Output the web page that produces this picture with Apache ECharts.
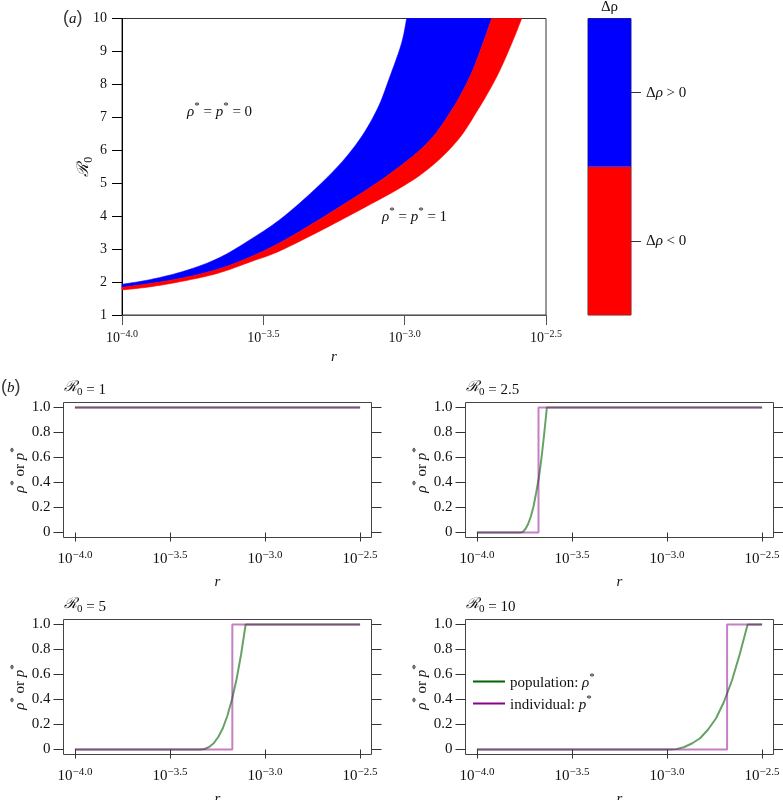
<!DOCTYPE html>
<html><head><meta charset="utf-8">
<script src="https://cdn.jsdelivr.net/npm/echarts@6/dist/echarts.min.js"></script>
<style>html,body{margin:0;padding:0;background:#fff}#c{width:783px;height:800px}</style>
</head><body><div id="c"></div>
<script>
// ================= DATA =================
// x axis: log10(r)
const xTickValues = [-4, -3.5, -3, -2.5];
const xTickLabels = ['\u22124.0', '\u22123.5', '\u22123.0', '\u22122.5'];
const yTickValuesB = [0, 0.2, 0.4, 0.6, 0.8, 1];
const yTickLabelsB = ['0', '0.2', '0.4', '0.6', '0.8', '1.0'];

// panel (a): region boundaries, [log10 r, R0]
const blueUpper = [[-4.000,1.93],[-3.897,2.08],[-3.777,2.34],[-3.660,2.72],[-3.544,3.30],[-3.423,4.02],[-3.271,5.20],[-3.169,6.21],[-3.098,7.23],[-3.052,8.24],[-3.011,9.25],[-2.993,10.0]];
const blueMid   = [[-4.000,1.84],[-3.897,1.96],[-3.777,2.14],[-3.660,2.39],[-3.544,2.77],[-3.423,3.28],[-3.247,4.19],[-3.066,5.20],[-2.921,6.21],[-2.833,7.23],[-2.769,8.24],[-2.723,9.25],[-2.692,10.0]];
const redLower  = [[-4.000,1.76],[-3.897,1.86],[-3.777,2.04],[-3.660,2.27],[-3.544,2.62],[-3.423,3.02],[-3.158,4.19],[-2.953,5.20],[-2.822,6.21],[-2.741,7.23],[-2.674,8.24],[-2.621,9.25],[-2.586,10.0]];

// colour key
const keyLevels = ['\u0394\u03c1 < 0', '\u0394\u03c1 > 0'];
const keyValues = [1, 1];
const keyColors = ['#ff0000', '#0000ff'];

// panel (b): R0 values and curves
const panelR0 = ['1', '2.5', '5', '10'];
const popR0_1   = [[-4,1],[-2.5,1]];
const indR0_1   = [[-4,1],[-2.5,1]];
const popR0_2_5 = [[-4,0],[-3.772,0],[-3.758,0.005],[-3.744,0.03],[-3.730,0.07],[-3.716,0.13],[-3.702,0.21],[-3.688,0.32],[-3.674,0.44],[-3.660,0.60],[-3.646,0.79],[-3.632,1],[-2.5,1]];
const indR0_2_5 = [[-4,0],[-3.676,0],[-3.676,1],[-2.5,1]];
const popR0_5   = [[-4,0],[-3.342,0],[-3.318,0.004],[-3.294,0.02],[-3.270,0.05],[-3.246,0.10],[-3.222,0.17],[-3.198,0.27],[-3.174,0.40],[-3.150,0.56],[-3.126,0.76],[-3.102,1],[-2.5,1]];
const indR0_5   = [[-4,0],[-3.172,0],[-3.172,1],[-2.5,1]];
const popR0_10  = [[-4,0],[-2.992,0],[-2.950,0.003],[-2.909,0.02],[-2.867,0.05],[-2.826,0.09],[-2.784,0.16],[-2.742,0.25],[-2.701,0.38],[-2.659,0.55],[-2.618,0.76],[-2.576,1],[-2.5,1]];
const indR0_10  = [[-4,0],[-2.684,0],[-2.684,1],[-2.5,1]];
const popSeries = [popR0_1, popR0_2_5, popR0_5, popR0_10];
const indSeries = [indR0_1, indR0_2_5, indR0_5, indR0_10];
const popName = 'population';
const indName = 'individual';

// ================= STYLE =================
const SERIF = "'Liberation Serif','DejaVu Serif','Times New Roman',serif";
const INK = '#111';
function rich(fs) {
  return {
    n:  {fontFamily: SERIF, fontSize: fs, color: INK, verticalAlign: 'bottom'},
    it: {fontFamily: SERIF, fontSize: fs, color: INK, fontStyle: 'italic', verticalAlign: 'bottom'},
    r:  {fontFamily: "'DejaVu Serif','Liberation Serif',serif", fontSize: fs, color: INK, fontStyle: 'italic', verticalAlign: 'top'},
    sub:{fontFamily: SERIF, fontSize: Math.round(fs*0.72), color: INK, verticalAlign: 'bottom', padding: [7,0,0,0]},
    sup:{fontFamily: SERIF, fontSize: Math.round(fs*0.72), color: INK, verticalAlign: 'top', padding: [0,0,8,0]},
    b:  {fontFamily: SERIF, fontSize: fs, color: INK, verticalAlign: 'bottom'},
    s:  {fontFamily: SERIF, fontSize: Math.round(fs*0.72), color: INK, verticalAlign: 'top', padding: [0,0,6,0]}
  };
}
function xTickFmt(v) {
  let i = xTickValues.findIndex(t => Math.abs(t - v) < 1e-6);
  if (i < 0) return '';
  return '{b|10}{s|' + xTickLabels[i] + '}';
}
function yTickFmtB(v) {
  let i = yTickValuesB.findIndex(t => Math.abs(t - v) < 1e-6);
  return i < 0 ? '' : yTickLabelsB[i];
}
// Catmull-Rom smoothing of a pixel polyline (for drawing only)
function smoothPx(pts, n) {
  const out = [];
  for (let i = 0; i < pts.length - 1; i++) {
    const p0 = pts[Math.max(i - 1, 0)], p1 = pts[i], p2 = pts[i + 1], p3 = pts[Math.min(i + 2, pts.length - 1)];
    for (let k = 0; k < n; k++) {
      const t = k / n, t2 = t * t, t3 = t2 * t;
      out.push([0, 1].map(d => 0.5 * ((2 * p1[d]) + (-p0[d] + p2[d]) * t + (2 * p0[d] - 5 * p1[d] + 4 * p2[d] - p3[d]) * t2 + (-p0[d] + 3 * p1[d] - 3 * p2[d] + p3[d]) * t3)));
    }
  }
  out.push(pts[pts.length - 1]);
  return out;
}
function band(upper, lower, color) {
  return {type: 'custom', xAxisIndex: 0, yAxisIndex: 0, silent: true, data: [[-3.5, 5]],
    renderItem: (p, api) => {
      const u = smoothPx(upper.map(q => api.coord(q)), 12);
      const l = smoothPx(lower.map(q => api.coord(q)), 12).reverse();
      return {type: 'polygon', shape: {points: u.concat(l)}, style: {fill: color, stroke: color, lineWidth: 0.6}};
    }};
}

const grids = [
  {left: 122, top: 18.5, width: 424, height: 296.5},
  {left: 588, top: 18.5, width: 43, height: 296.5},
  {left: 63.5, top: 402.5, width: 308, height: 135},
  {left: 465.5, top: 402.5, width: 308, height: 135},
  {left: 63.5, top: 619.5, width: 308, height: 135},
  {left: 465.5, top: 619.5, width: 308, height: 135}
].map((g, i) => Object.assign({show: true, borderColor: i < 2 ? '#333' : '#444', borderWidth: 1, backgroundColor: 'transparent', outerBoundsMode: 'none'}, g));

const xAxes = [
  {gridIndex: 0, type: 'value', min: -4, max: -2.5, interval: 0.5,
   axisLine: {lineStyle: {color: '#555'}}, splitLine: {show: false},
   axisTick: {length: 10, lineStyle: {color: '#555'}},
   axisLabel: {margin: 14, formatter: xTickFmt, rich: rich(14)},
   name: 'r', nameLocation: 'middle', nameGap: 35, nameMoveOverlap: false,
   nameTextStyle: {fontFamily: SERIF, fontStyle: 'italic', fontSize: 15, color: INK}},
  {gridIndex: 1, type: 'category', position: 'top', data: ['\u0394\u03c1'],
   axisLine: {show: false}, axisTick: {show: false},
   axisLabel: {margin: 4, fontFamily: SERIF, fontSize: 15, color: INK}}
];
const yAxes = [
  {gridIndex: 0, type: 'value', min: 1, max: 10, interval: 1,
   axisLine: {show: true, lineStyle: {color: '#000'}}, splitLine: {show: false},
   axisTick: {length: 10, lineStyle: {color: '#000'}},
   axisLabel: {margin: 15, fontFamily: SERIF, fontSize: 14, color: INK},
   name: '{r|\u211b}{sub|0}', nameLocation: 'middle', nameGap: 27, nameRotate: 90, nameMoveOverlap: false,
   nameTextStyle: {rich: rich(16)}},
  {gridIndex: 1, type: 'value', min: 0, max: 2, position: 'right',
   axisLine: {show: false}, splitLine: {show: false},
   axisTick: {show: true, length: 10, customValues: [0.5, 1.5], lineStyle: {color: '#333'}},
   axisLabel: {margin: 15, customValues: [0.5, 1.5],
     formatter: v => { const s = keyLevels[Math.floor(v)]; return '{n|\u0394}{it|\u03c1}{n|' + s.slice(2) + '}'; },
     rich: rich(15)}}
];
const series = [
  band(blueUpper, blueMid, '#0000ff'),
  band(blueMid, redLower, '#ff0000'),
  {type: 'bar', xAxisIndex: 1, yAxisIndex: 1, stack: 'key', barWidth: '100%', silent: true,
   data: [keyValues[0]], itemStyle: {color: keyColors[0]}},
  {type: 'bar', xAxisIndex: 1, yAxisIndex: 1, stack: 'key', barWidth: '100%', silent: true,
   data: [keyValues[1]], itemStyle: {color: keyColors[1]}}
];

const titles = [
  {text: '({it|a})', left: 63, top: 9},
  {text: '({it|b})', left: 1, top: 378},
  {text: '{it|\u03c1}{sup|*}{n| = }{it|p}{sup|*}{n| = 0}', left: 187, top: 101},
  {text: '{it|\u03c1}{sup|*}{n| = }{it|p}{sup|*}{n| = 1}', left: 382, top: 206}
];
const panelPos = [[64, 380], [466, 380], [64, 597], [466, 597]];

for (let i = 0; i < 4; i++) {
  const g = 2 + i;
  xAxes.push({gridIndex: g, type: 'value', min: -4.06, max: -2.44,
    axisLine: {show: false}, splitLine: {show: false},
    axisTick: {length: 9, customValues: xTickValues, lineStyle: {color: '#333'}},
    axisLabel: {margin: 12, customValues: xTickValues, formatter: xTickFmt, rich: rich(15)},
    name: 'r', nameLocation: 'middle', nameGap: 37, nameMoveOverlap: false,
    nameTextStyle: {fontFamily: SERIF, fontStyle: 'italic', fontSize: 15, color: INK}});
  yAxes.push({gridIndex: g, type: 'value', min: -0.04, max: 1.04,
    axisLine: {show: false}, splitLine: {show: false},
    axisTick: {length: 10, customValues: yTickValuesB, lineStyle: {color: '#333'}},
    axisLabel: {margin: 13, customValues: yTickValuesB, formatter: yTickFmtB, fontFamily: SERIF, fontSize: 15, color: INK},
    name: '{it|\u03c1}{sup|*}{n| or }{it|p}{sup|*}', nameLocation: 'middle', nameGap: 36, nameRotate: 90, nameMoveOverlap: false,
    nameTextStyle: {rich: rich(15)}});
  yAxes.push({gridIndex: g, type: 'value', min: -0.04, max: 1.04, position: 'right',
    axisLine: {show: false}, splitLine: {show: false},
    axisTick: {length: 10, customValues: yTickValuesB, lineStyle: {color: '#333'}},
    axisLabel: {show: false}});
  const xi = 2 + i, yi = 2 + 2 * i;
  series.push({type: 'line', name: popName, xAxisIndex: xi, yAxisIndex: yi, data: popSeries[i],
    symbol: 'none', silent: true,
    lineStyle: {color: '#006400', width: 2, opacity: 0.6}, itemStyle: {color: '#006400'}});
  series.push({type: 'line', name: indName, xAxisIndex: xi, yAxisIndex: yi, data: indSeries[i],
    symbol: 'none', silent: true,
    lineStyle: {color: '#8b008b', width: 2, opacity: 0.5}, itemStyle: {color: '#8b008b'}});
  titles.push({text: '{r|\u211b}{sub|0}{n| = ' + panelR0[i] + '}', left: panelPos[i][0], top: panelPos[i][1]});
}

const legendText = {};
legendText[popName] = '{n|population: }{it|\u03c1}{sup|*}';
legendText[indName] = '{n|individual: }{it|p}{sup|*}';

const chart = echarts.init(document.getElementById('c'), null, {renderer: 'canvas'});
chart.setOption({
  animation: false,
  backgroundColor: '#fff',
  grid: grids,
  xAxis: xAxes,
  yAxis: yAxes,
  series: series,
  title: titles.map(t => Object.assign({padding: 0, textStyle: {fontWeight: 'normal', rich: rich(15)}}, t)),
  legend: {left: 468, top: 667, orient: 'vertical', itemWidth: 32, itemHeight: 2, itemGap: 3,
    data: [{name: popName, icon: 'rect'}, {name: indName, icon: 'rect'}], selectedMode: false,
    formatter: n => legendText[n],
    textStyle: {rich: rich(15)},
    itemStyle: {opacity: 1}}
});
</script></body></html>
